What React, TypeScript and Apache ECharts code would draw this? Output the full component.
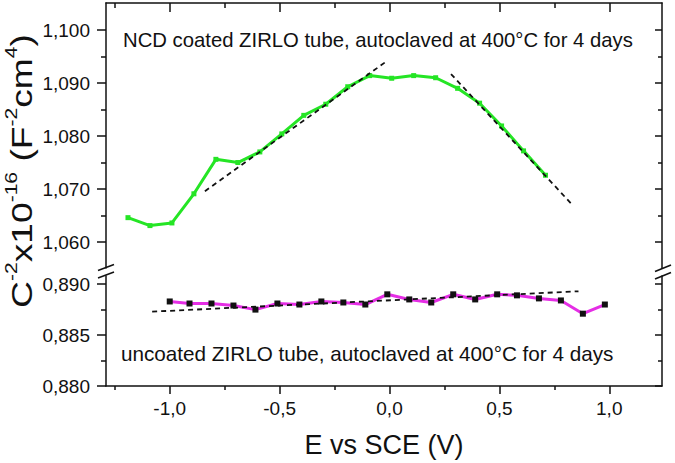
import React, { useEffect, useRef } from "react";
import * as echarts from "echarts";

// ---- data ----
const ncdE = [-1.19, -1.09, -0.99, -0.89, -0.79, -0.69, -0.59, -0.49, -0.39, -0.29, -0.19, -0.09, 0.01, 0.11, 0.21, 0.31, 0.41, 0.51, 0.61, 0.71];
const ncdC = [1.0646, 1.0631, 1.0636, 1.0691, 1.0756, 1.075, 1.077, 1.0804, 1.0839, 1.086, 1.0893, 1.0914, 1.0909, 1.0914, 1.091, 1.089, 1.0862, 1.0819, 1.0772, 1.0726];
const ncdFit1E = [-0.84, -0.01];
const ncdFit1C = [1.0696, 1.0942];
const ncdFit2E = [0.28, 0.83];
const ncdFit2C = [1.0917, 1.0671];

const uncE = [-1.0, -0.91, -0.81, -0.71, -0.61, -0.51, -0.41, -0.31, -0.21, -0.11, -0.01, 0.09, 0.19, 0.29, 0.39, 0.49, 0.58, 0.68, 0.78, 0.88, 0.98];
const uncC = [0.8883, 0.8881, 0.8881, 0.8879, 0.8875, 0.8881, 0.888, 0.8883, 0.8882, 0.888, 0.889, 0.8885, 0.8882, 0.889, 0.8885, 0.889, 0.8889, 0.8886, 0.8884, 0.8871, 0.888];
const uncFitE = [-1.08, 0.86];
const uncFitC = [0.8873, 0.8893];

const xMajor = [-1, -0.5, 0, 0.5, 1];
const xMinor = [-1.25, -0.75, -0.25, 0.25, 0.75];
const yUpMajor = [1.06, 1.07, 1.08, 1.09, 1.1];
const yUpMinor = [1.065, 1.075, 1.085, 1.095];
const yLowMajor = [0.88, 0.885, 0.89];
const yLowMinor = [0.8825, 0.8875];

const xRange = [-1.29, 1.24];
const yUpRange = [1.0551, 1.1051];
const yLowRange = [0.88, 0.8908];

const labelNCD = "NCD coated ZIRLO tube, autoclaved at 400°C for 4 days";
const labelUnc = "uncoated ZIRLO tube, autoclaved at 400°C for 4 days";

const FONT = "'Liberation Sans', Arial, Helvetica, sans-serif";
const GREEN = "#25e525";
const MAGENTA = "#e52ee5";
const INK = "#111";

const zip = (a: number[], b: number[]) => a.map((v, i) => [v, b[i]]);

function xAxisDef(grid: number, pos: string, ticks: number[], len: number, inside: boolean, line: boolean, labels: boolean) {
  return {
    type: "value",
    gridIndex: grid,
    position: pos,
    min: xRange[0],
    max: xRange[1],
    axisLine: { show: line, onZero: false, lineStyle: { color: INK, width: 1.5 } },
    axisTick: { show: true, inside, length: len, customValues: ticks, lineStyle: { color: INK, width: 1.5 } },
    axisLabel: {
      show: labels,
      customValues: ticks,
      margin: 13,
      color: INK,
      fontSize: 19,
      fontFamily: FONT,
      formatter: (v: number) => v.toFixed(1).replace(".", ","),
    },
    splitLine: { show: false },
  };
}

function yAxisDef(grid: number, pos: string, range: number[], ticks: number[], len: number, inside: boolean, line: boolean, labels: boolean) {
  return {
    type: "value",
    gridIndex: grid,
    position: pos,
    min: range[0],
    max: range[1],
    axisLine: { show: line, onZero: false, lineStyle: { color: INK, width: 1.5 } },
    axisTick: { show: true, inside, length: len, customValues: ticks, lineStyle: { color: INK, width: 1.5 } },
    axisLabel: {
      show: labels,
      customValues: ticks,
      margin: 16,
      color: INK,
      fontSize: 19,
      fontFamily: FONT,
      formatter: (v: number) => v.toFixed(3).replace(".", ","),
    },
    splitLine: { show: false },
  };
}

export default function App() {
  const ref = useRef<HTMLDivElement>(null);
  useEffect(() => {
    if (!ref.current) return;
    const chart = echarts.init(ref.current, undefined, { renderer: "svg" });
    const brk = (x1: number, y1: number, x2: number, y2: number) => ({
      type: "line",
      shape: { x1, y1, x2, y2 },
      style: { stroke: INK, lineWidth: 1.6 },
      z: 100,
    });
    chart.setOption({
      animation: false,
      backgroundColor: "#fff",
      grid: [
        { left: 106, right: 13, top: 3, height: 265 },
        { left: 106, right: 13, top: 276, height: 110 },
      ],
      xAxis: [
        xAxisDef(0, "top", xMajor, 9, true, true, false),
        xAxisDef(0, "top", xMinor, 5, true, false, false),
        xAxisDef(1, "bottom", xMajor, 8, false, true, true),
        xAxisDef(1, "bottom", xMinor, 4, false, false, false),
      ],
      yAxis: [
        yAxisDef(0, "left", yUpRange, yUpMajor, 9, false, true, true),
        yAxisDef(0, "left", yUpRange, yUpMinor, 5, false, false, false),
        yAxisDef(0, "right", yUpRange, yUpMajor, 7, true, true, false),
        yAxisDef(0, "right", yUpRange, yUpMinor, 4, true, false, false),
        yAxisDef(1, "left", yLowRange, yLowMajor, 9, false, true, true),
        yAxisDef(1, "left", yLowRange, yLowMinor, 5, false, false, false),
        yAxisDef(1, "right", yLowRange, yLowMajor, 7, true, true, false),
        yAxisDef(1, "right", yLowRange, yLowMinor, 4, true, false, false),
      ],
      series: [
        {
          type: "line",
          name: "NCD",
          xAxisIndex: 0,
          yAxisIndex: 0,
          data: zip(ncdE, ncdC),
          symbol: "rect",
          symbolSize: 5,
          itemStyle: { color: GREEN },
          lineStyle: { color: GREEN, width: 3 },
          z: 2,
        },
        {
          type: "line",
          xAxisIndex: 0,
          yAxisIndex: 0,
          data: zip(ncdFit1E, ncdFit1C),
          symbol: "none",
          lineStyle: { color: INK, width: 1.8, type: [5, 4] },
          z: 3,
        },
        {
          type: "line",
          xAxisIndex: 0,
          yAxisIndex: 0,
          data: zip(ncdFit2E, ncdFit2C),
          symbol: "none",
          lineStyle: { color: INK, width: 1.8, type: [5, 4] },
          z: 3,
        },
        {
          type: "line",
          name: "uncoated",
          xAxisIndex: 2,
          yAxisIndex: 4,
          data: zip(uncE, uncC),
          symbol: "rect",
          symbolSize: 6,
          itemStyle: { color: "#111" },
          lineStyle: { color: MAGENTA, width: 3 },
          z: 2,
        },
        {
          type: "line",
          xAxisIndex: 2,
          yAxisIndex: 4,
          data: zip(uncFitE, uncFitC),
          symbol: "none",
          lineStyle: { color: INK, width: 1.8, type: [5, 4] },
          z: 3,
        },
      ],
      graphic: [
        {
          type: "text",
          x: 123,
          y: 40,
          style: { text: labelNCD, fontSize: 20.3, fontFamily: FONT, fill: INK, align: "left", verticalAlign: "middle" },
        },
        {
          type: "text",
          x: 121,
          y: 353,
          style: { text: labelUnc, fontSize: 20.7, fontFamily: FONT, fill: INK, align: "left", verticalAlign: "middle" },
        },
        {
          type: "text",
          x: 384,
          y: 445,
          style: { text: "E vs SCE (V)", fontSize: 27, fontFamily: FONT, fill: INK, align: "center", verticalAlign: "middle" },
        },
        {
          type: "text",
          x: 21,
          y: 171,
          rotation: Math.PI / 2,
          scaleX: 1.24,
          style: {
            text: "{n|C}{s|-2}{n|x10}{s|-16}{n| (F}{s|-2}{n|cm}{s|4}{n|)}",
            align: "center",
            verticalAlign: "middle",
            fill: INK,
            rich: {
              n: { fontSize: 30, fontFamily: FONT, lineHeight: 36, fill: INK },
              s: { fontSize: 17, fontFamily: FONT, lineHeight: 18, verticalAlign: "top", fill: INK },
            },
          },
        },
        brk(98, 270.5, 114, 264.5),
        brk(98, 278, 114, 272),
        brk(655, 271.5, 671, 265),
        brk(655, 279, 671, 272.5),
      ],
    });
    return () => chart.dispose();
  }, []);
  return <div ref={ref} style={{ position: "fixed", left: 0, top: 0, width: 675, height: 463 }} />;
}
